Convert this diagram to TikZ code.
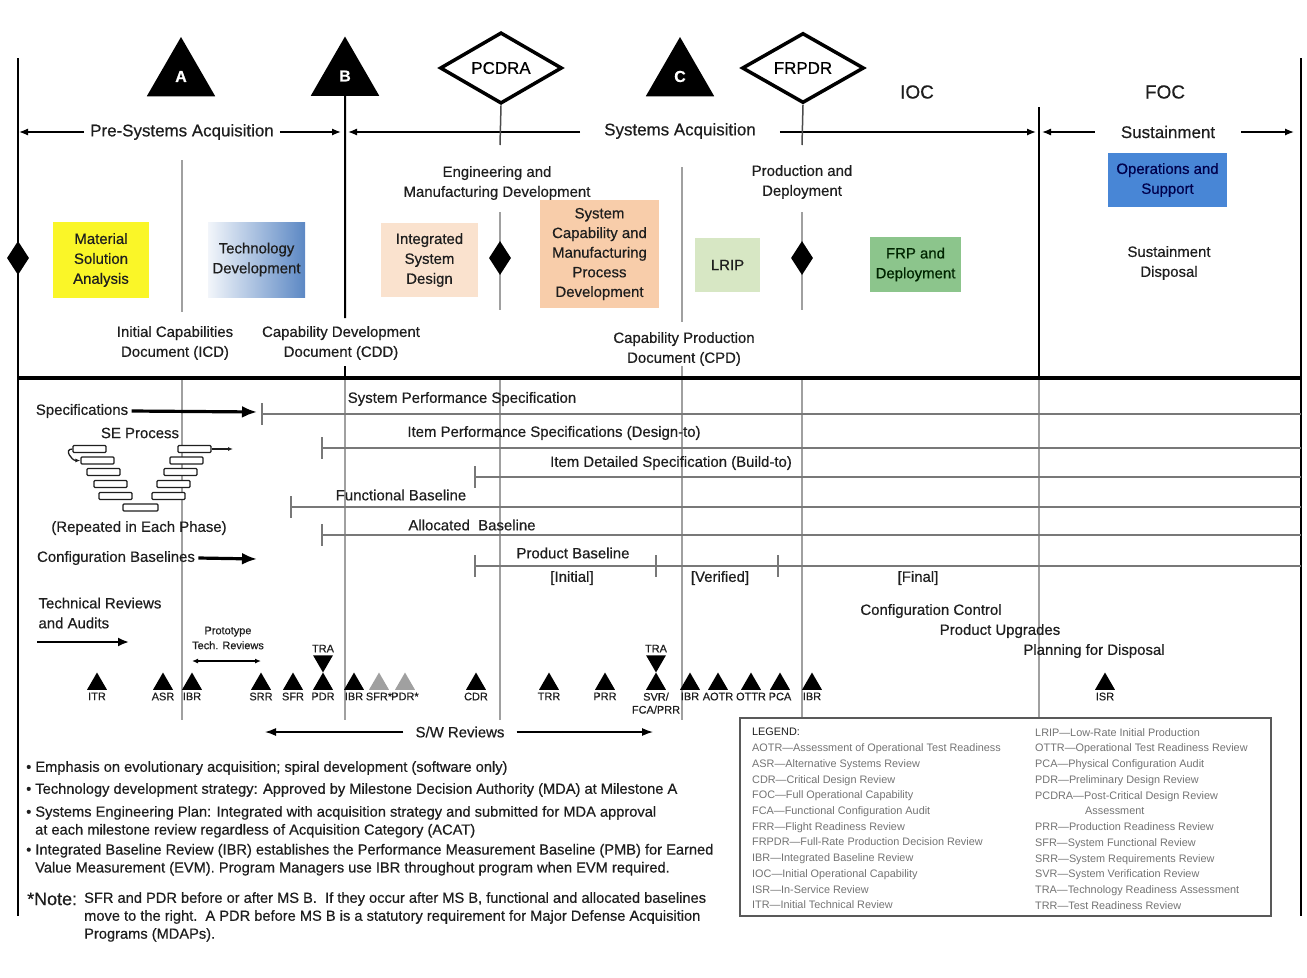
\documentclass[tikz,border=0pt]{standalone}
\usepackage{fontspec}
\setmainfont{Liberation Sans}[FakeBold=0.5]
\newfontfamily\legfont{Liberation Sans}[Ligatures=TeX]
\usetikzlibrary{shapes.geometric, arrows.meta, positioning, calc}
\newcommand{\fsz}[2]{\fontsize{#1}{#2}\selectfont}
\definecolor{cMSA}{RGB}{250, 246, 40}
\definecolor{cTD}{RGB}{92, 136, 196}
\definecolor{cISD}{RGB}{250, 226, 206}
\definecolor{cSCM}{RGB}{248, 205, 170}
\definecolor{cLRIP}{RGB}{215, 231, 196}
\definecolor{cFRP}{RGB}{140, 197, 140}
\definecolor{cOS}{RGB}{72, 134, 214}
\definecolor{cText}{RGB}{30, 30, 30}
\definecolor{cLine}{RGB}{160, 160, 160}
\definecolor{cBase}{RGB}{120, 120, 120}
\definecolor{cLeg}{RGB}{115, 115, 115}
\definecolor{cStar}{RGB}{160, 160, 160}
\tikzstyle{Mile}=[regular polygon,
		regular polygon sides=3,
		minimum size=79bp,
		inner sep=0pt,
		fill=black,
		text=white,
		font=\fsz{16}{16}\bfseries]
\tikzstyle{Gate}=[diamond,
		draw=black,
		line width=3.5bp,
		minimum width=122bp,
		minimum height=62bp,
		inner sep=0pt,
		fill=white,
		font=\fsz{17}{17}]
\tikzstyle{Dec}=[diamond,
		fill=black,
		minimum width=22bp,
		minimum height=34bp,
		inner sep=0pt]
\tikzstyle{Phase}=[rectangle,
		inner sep=0pt,
		align=center,
		text=cText,
		font=\fsz{15}{20}]
\tikzstyle{Lbl}=[align=center, text=cText, font=\fsz{15}{20}]
\tikzstyle{Big}=[text=cText, font=\fsz{17}{17}]
\tikzstyle{Rev}=[regular polygon,
		regular polygon sides=3,
		minimum size=23bp,
		inner sep=0pt,
		fill=black]
\tikzstyle{RevStar}=[Rev, fill=cStar]
\tikzstyle{RevDown}=[Rev, shape border rotate=180]
\tikzstyle{Base}=[draw=cBase, line width=2.4bp]
\tikzstyle{Tick}=[draw=cBase, line width=1.6bp]
\tikzstyle{Grid}=[draw=cLine, line width=1.3bp]
\tikzstyle{Frame}=[draw=black, line width=2bp]
\tikzstyle{PhaseArrow}=[-{Latex[length=9bp,width=7bp]}, line width=1.3bp]
\tikzstyle{FatArrow}=[-{Latex[length=15bp,width=12bp]}, line width=3.2bp]
\tikzstyle{SEbar}=[rectangle,
		rounded corners=1bp,
		draw=cText,
		line width=1.3bp,
		fill=white,
		minimum width=33bp,
		minimum height=7bp,
		inner sep=0pt]
\tikzstyle{Notes}=[align=left, inner sep=0pt, text=cText, font=\fsz{14.7}{18}]
\tikzstyle{Legend}=[align=left, inner sep=0pt, text=cLeg, font=\legfont\fsz{10.9}{15.8}]

\begin{document}
\begin{tikzpicture}[x=1bp,y=-1bp,
  every label/.style={text=cText, font=\fsz{11}{13}, inner sep=2.5pt, align=center}]
  \useasboundingbox (0,0) rectangle (1307,977);

  % frame and separator
  \coordinate (fl0) at (18,58);
  \coordinate (fl1) at (18,916);
  \coordinate (fr0) at (1301,58);
  \coordinate (fr1) at (1301,916);
  \coordinate (sepL) at (18,378);
  \coordinate (sepR) at (1301,378);

  % grid lines of the lower part
  \coordinate (g1t) at (182,378);
  \coordinate (g1b) at (182,720);
  \coordinate (g2t) at (345,366);
  \coordinate (g2b) at (345,720);
  \coordinate (g3t) at (500,378);
  \coordinate (g3b) at (500,720);
  \coordinate (g4t) at (682,366);
  \coordinate (g4b) at (682,720);
  \coordinate (g5t) at (802,378);
  \coordinate (g5b) at (802,718);
  \coordinate (g6t) at (1039,378);
  \coordinate (g6b) at (1039,718);
  \draw [Grid] (g1t) -- (g1b);
  \draw [Grid] (g2t) -- (g2b);
  \draw [Grid] (g3t) -- (g3b);
  \draw [Grid] (g4t) -- (g4b);
  \draw [Grid] (g5t) -- (g5b);
  \draw [Grid] (g6t) -- (g6b);

  % milestones and decision reviews
  \node [Mile] (A) at (181,76.5) {A};
  \node [Mile] (B) at (345,76) {B};
  \node [Mile] (C) at (680,76.5) {C};
  \node [Gate] (pcdra) at (501,68) {PCDRA};
  \node [Gate] (frpdr) at (803,68) {FRPDR};
  \node [Big, font=\fsz{19}{19}] (ioc) at (917,92) {IOC};
  \node [Big, font=\fsz{19}{19}] (foc) at (1165,92) {FOC};

  % phase arrows
  \node [Big, inner xsep=6bp] (pre) at (182,132) {Pre-Systems Acquisition};
  \node [Big, inner xsep=24bp] (sys) at (680,131) {Systems Acquisition};
  \node [Big, inner xsep=26bp] (sust) at (1168,132) {Sustainment};
  \coordinate (preL) at (19,132);
  \coordinate (preR) at (341,132);
  \coordinate (sysL) at (348,132);
  \coordinate (sysR) at (1036,132);
  \coordinate (sustL) at (1042,132);
  \coordinate (sustR) at (1294,132);
  \draw [PhaseArrow] (pre.west) -- (preL);
  \draw [PhaseArrow] (pre.east) -- (preR);
  \draw [PhaseArrow] (sys.west |- sysL) -- (sysL);
  \draw [PhaseArrow] (sys.east |- sysR) -- (sysR);
  \draw [PhaseArrow] (sust.west) -- (sustL);
  \draw [PhaseArrow] (sust.east) -- (sustR);

  % documents
  \node [Lbl] (icd) at (175,343) {Initial Capabilities\\Document (ICD)};
  \node [Lbl] (cdd) at (341,343) {Capability Development\\Document (CDD)};
  \node [Lbl] (cpd) at (684,349) {Capability Production\\Document (CPD)};

  % upper vertical lines
  \coordinate (v1t) at (182,160);
  \coordinate (v1b) at (182,312);
  \coordinate (v3a) at (500,145);
  \coordinate (v3t) at (500,212);
  \coordinate (v3b) at (500,310);
  \coordinate (v4t) at (682,167);
  \coordinate (v4b) at (682,322);
  \coordinate (v5a) at (802,145);
  \coordinate (v5t) at (802,212);
  \coordinate (v5b) at (802,310);
  \coordinate (v6t) at (1039,107);
  \coordinate (v2b) at (345,318);
  \draw [Grid] (v1t) -- (v1b);
  \draw [Grid] (v3t) -- (v3b);
  \draw [Grid] (v4t) -- (v4b);
  \draw [Grid] (v5t) -- (v5b);
  \draw [line width=1.5bp, draw=black!70] (pcdra.south) -- (v3a);
  \draw [line width=1.5bp, draw=black!70] (frpdr.south) -- (v5a);
  \draw [Frame] (B.south) -- (v2b);
  \draw [Frame] (v6t) -- (g6t);
  \draw [Frame] (g2t) -- (g2t |- sepL);
  \draw [Frame] (fl0) -- (fl1);
  \draw [Frame] (fr0) -- (fr1);
  \draw [line width=4bp] (sepL) -- (sepR);

  \node [Dec] (d0) at (18,258) {};
  \node [Dec] (d1) at (500,258) {};
  \node [Dec] (d2) at (802,258) {};

  % phases
  \node [Lbl] (emd) at (497,183) {Engineering and\\Manufacturing Development};
  \node [Lbl] (pd) at (802,182) {Production and\\Deployment};
  \node [Phase, fill=cMSA, minimum width=96bp, minimum height=76bp] (msa) at (101,260) {Material\\Solution\\Analysis};
  \node [Phase, left color=cTD!8, right color=cTD, minimum width=97bp, minimum height=75bp] (td) at (256.5,259.5) {Technology\\Development};
  \node [Phase, fill=cISD, minimum width=97bp, minimum height=74bp] (isd) at (429.5,260) {Integrated\\System\\Design};
  \node [Phase, fill=cSCM, minimum width=119bp, minimum height=108bp, font=\fsz{15}{19.7}] (scm) at (599.5,254) {System\\Capability and\\Manufacturing\\Process\\Development};
  \node [Phase, fill=cLRIP, minimum width=65bp, minimum height=54bp] (lrip) at (727.5,265) {LRIP};
  \node [Phase, fill=cFRP, minimum width=91bp, minimum height=55bp, text=black!65!green!40!black] (frp) at (915.5,264.5) {FRP and\\Deployment};
  \node [Phase, fill=cOS, minimum width=119bp, minimum height=54bp, text=blue!30!black] (os) at (1167.5,180) {Operations and\\Support};
  \node [Lbl] (sd) at (1169,263) {Sustainment\\Disposal};

  % specifications and baselines
  \coordinate (sps) at (262,414);
  \coordinate (spsR) at (1301,414);
  \coordinate (ips) at (322,448);
  \coordinate (ipsR) at (1301,448);
  \coordinate (ids) at (475,477);
  \coordinate (idsR) at (1301,477);
  \coordinate (fb) at (291,507);
  \coordinate (fbR) at (1301,507);
  \coordinate (ab) at (322,535);
  \coordinate (abR) at (1301,535);
  \coordinate (pb) at (475,566);
  \coordinate (pbV) at (656,566);
  \coordinate (pbF) at (778,566);
  \coordinate (pbR) at (1301,566);
  \draw [Base] (sps) -- (spsR);
  \draw [Base] (ips) -- (ipsR);
  \draw [Base] (ids) -- (idsR);
  \draw [Base] (fb) -- (fbR);
  \draw [Base] (ab) -- (abR);
  \draw [Base] (pb) -- (pbR);
  \draw [Tick] (sps) ++(0,-11) -- ++(0,22);
  \draw [Tick] (ips) ++(0,-11) -- ++(0,22);
  \draw [Tick] (ids) ++(0,-11) -- ++(0,22);
  \draw [Tick] (fb) ++(0,-11) -- ++(0,22);
  \draw [Tick] (ab) ++(0,-11) -- ++(0,22);
  \draw [Tick] (pb) ++(0,-11) -- ++(0,22);
  \draw [Tick] (pbV) ++(0,-11) -- ++(0,22);
  \draw [Tick] (pbF) ++(0,-11) -- ++(0,22);
  \node [Lbl] (spsT) at (462,399) {System Performance Specification};
  \node [Lbl] (ipsT) at (554,433) {Item Performance Specifications (Design-to)};
  \node [Lbl] (idsT) at (671,463) {Item Detailed Specification (Build-to)};
  \node [Lbl] (fbT) at (401,495) {Functional Baseline};
  \node [Lbl] (abT) at (472,525) {Allocated\ \ Baseline};
  \node [Lbl] (pbT) at (573,553) {Product Baseline};
  \node [Lbl] (ini) at (572,578) {[Initial]};
  \node [Lbl] (ver) at (720,578) {[Verified]};
  \node [Lbl] (fin) at (918,578) {[Final]};

  \node [Lbl] (spec) at (82,411) {Specifications};
  \coordinate (specTip) at (257,412);
  \draw [FatArrow] (spec.east) -- (specTip);
  \node [Lbl] (cb) at (116,558) {Configuration Baselines};
  \coordinate (cbTip) at (257,559);
  \draw [FatArrow] (cb.east) -- (cbTip);

  % SE process
  \node [Lbl] (sep) at (140,433) {SE Process};
  \node [SEbar] (L1) at (89.5,449) {};
  \node [SEbar] (L2) at (97.5,460.5) {};
  \node [SEbar] (L3) at (103.5,472) {};
  \node [SEbar] (L4) at (110.5,484) {};
  \node [SEbar] (L5) at (115.5,496) {};
  \node [SEbar, minimum width=35bp] (V0) at (140.5,507.5) {};
  \node [SEbar] (R5) at (168.5,496) {};
  \node [SEbar] (R4) at (173.5,484) {};
  \node [SEbar] (R3) at (180.5,472) {};
  \node [SEbar] (R2) at (186.5,460.5) {};
  \node [SEbar] (R1) at (194.5,449) {};
  \coordinate (seOut) at (233,449);
  \draw [line width=1.3bp, draw=cText, -{Latex[length=5bp,width=4bp]}] (L1.west) to[out=180, in=180, looseness=1.6] (L2.west);
  \draw [line width=1.3bp, draw=cText, -{Latex[length=5bp,width=4bp]}] (R1.east) -- (seOut);
  \node [Lbl] (rep) at (139,528) {(Repeated in Each Phase)};

  % technical reviews and audits
  \node [Lbl, align=left, anchor=west] (tra) at (35,613) {Technical Reviews\\and Audits};
  \coordinate (tr0) at (37,642);
  \coordinate (tr1) at (129,642);
  \draw [-{Latex[length=11bp,width=9bp]}, line width=2bp] (tr0) -- (tr1);
  \node [Lbl, font=\fsz{11}{15}] (proto) at (228,638) {Prototype\\Tech. Reviews};
  \coordinate (pt0) at (192,661);
  \coordinate (pt1) at (261,661);
  \draw [{Latex[length=6bp,width=5bp]}-{Latex[length=6bp,width=5bp]}, line width=1.3bp] (pt0) -- (pt1);

  \node [Rev, label=below:ITR] (itr) at (97,684) {};
  \node [Rev, label=below:ASR] (asr) at (163,684) {};
  \node [Rev, label=below:IBR] (ibr1) at (192,684) {};
  \node [Rev, label=below:SRR] (srr) at (261,684) {};
  \node [Rev, label=below:SFR] (sfr) at (293,684) {};
  \node [Rev, label=below:PDR] (pdr) at (323,684) {};
  \node [RevDown, label=above:TRA] (tra1) at (323,661) {};
  \node [Rev, label=below:IBR] (ibr2) at (354,684) {};
  \node [RevStar, label=below:SFR*] (sfrs) at (379,684) {};
  \node [RevStar, label=below:PDR*] (pdrs) at (405,684) {};
  \node [Rev, label=below:CDR] (cdr) at (476,684) {};
  \node [Rev, label=below:TRR] (trr) at (549,684) {};
  \node [Rev, label=below:PRR] (prr) at (605,684) {};
  \node [Rev, label={below:SVR/\\FCA/PRR}] (svr) at (656,684) {};
  \node [RevDown, label=above:TRA] (tra2) at (656,661) {};
  \node [Rev, label=below:IBR] (ibr3) at (690,684) {};
  \node [Rev, label=below:AOTR] (aotr) at (718,684) {};
  \node [Rev, label=below:OTTR] (ottr) at (751,684) {};
  \node [Rev, label=below:PCA] (pca) at (780,684) {};
  \node [Rev, label=below:IBR] (ibr4) at (812,684) {};
  \node [Rev, label=below:ISR] (isr) at (1105,684) {};

  \node [Lbl] (cc) at (931,611) {Configuration Control};
  \node [Lbl] (pu) at (1000,631) {Product Upgrades};
  \node [Lbl] (pfd) at (1094,651) {Planning for Disposal};

  \node [Lbl, inner xsep=12bp] (sw) at (460,732) {S/W Reviews};
  \coordinate (swL) at (265,732);
  \coordinate (swR) at (653,732);
  \draw [PhaseArrow, -{Latex[length=11bp,width=8bp]}] (sw.west) -- (swL);
  \draw [PhaseArrow, -{Latex[length=11bp,width=8bp]}] (sw.east) -- (swR);

  % legend
  \node [draw=black!65, line width=1.5bp, minimum width=531bp, minimum height=198bp, inner sep=0pt] (leg) at (1005.5,817) {};
  \node [Legend, anchor=north west] (legL) at (752,728) {{\color{cText}LEGEND:}\\
    AOTR---Assessment of Operational Test Readiness\\
    ASR---Alternative Systems Review\\
    CDR---Critical Design Review\\
    FOC---Full Operational Capability\\
    FCA---Functional Configuration Audit\\
    FRR---Flight Readiness Review\\
    FRPDR---Full-Rate Production Decision Review\\
    IBR---Integrated Baseline Review\\
    IOC---Initial Operational Capability\\
    ISR---In-Service Review\\
    ITR---Initial Technical Review};
  \node [Legend, anchor=north west] (legR) at (1035,728) {LRIP---Low-Rate Initial Production\\
    OTTR---Operational Test Readiness Review\\
    PCA---Physical Configuration Audit\\
    PDR---Preliminary Design Review\\
    PCDRA---Post-Critical Design Review\\
    \hspace*{50bp}Assessment\\
    PRR---Production Readiness Review\\
    SFR---System Functional Review\\
    SRR---System Requirements Review\\
    SVR---System Verification Review\\
    TRA---Technology Readiness Assessment\\
    TRR---Test Readiness Review};

  % notes
  \node [Notes, anchor=north west] (bul) at (26,761) {%
    \textbullet\ Emphasis on evolutionary acquisition; spiral development (software only)\\[4bp]
    \textbullet\ Technology development strategy: Approved by Milestone Decision Authority (MDA) at Milestone A\\[5bp]
    \textbullet\ Systems Engineering Plan: Integrated with acquisition strategy and submitted for MDA approval\\
    \hspace*{9bp}at each milestone review regardless of Acquisition Category (ACAT)\\[2bp]
    \textbullet\ Integrated Baseline Review (IBR) establishes the Performance Measurement Baseline (PMB) for Earned\\
    \hspace*{9bp}Value Measurement (EVM). Program Managers use IBR throughout program when EVM required.};
  \node [Big, font=\fsz{18}{18}, anchor=west, inner sep=0pt] (note) at (27,899) {*Note:};
  \node [Notes, anchor=north west] (noteT) at (84,892) {SFR and PDR before or after MS B.\ \ If they occur after MS B, functional and allocated baselines\\
    move to the right.\ \ A PDR before MS B is a statutory requirement for Major Defense Acquisition\\
    Programs (MDAPs).};

\end{tikzpicture}
\end{document}
